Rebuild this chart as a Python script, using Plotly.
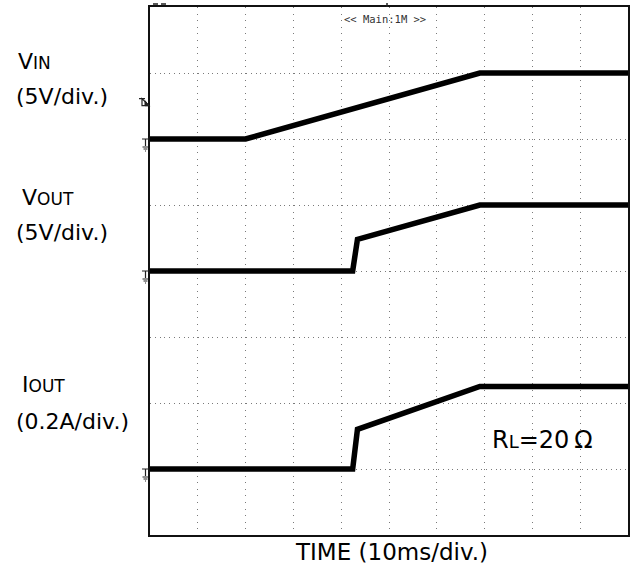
import plotly.graph_objects as go

# time axis in ms (10 ms/div, 10 divisions)
t_vin = [0, 20, 69, 100]
vin = [0, 0, 5, 5]            # V
t_out = [0, 42.4, 43.4, 69, 100]
vout = [0, 0, 2.4, 5, 5]      # V
iout = [0, 0, 0.12, 0.25, 0.25]  # A

# channel ground position (div) and scale (units/div)
vin_pos, vin_scale = 6, 5
vout_pos, vout_scale = 4, 5
iout_pos, iout_scale = 1, 0.2

W, H = 634, 569
L, R, T, B = 150, 4, 7, 34
pw, ph = W - L - R, H - T - B


def px(x):
    return (x - L) / pw


def py(y):
    return (H - B - y) / ph


fig = go.Figure()
for t, v, pos, sc in [(t_vin, vin, vin_pos, vin_scale),
                      (t_out, vout, vout_pos, vout_scale),
                      (t_out, iout, iout_pos, iout_scale)]:
    fig.add_trace(go.Scatter(x=t, y=[pos + a / sc for a in v], mode="lines",
                             line=dict(color="black", width=5.5),
                             showlegend=False, hoverinfo="skip"))

grid = "#7a7a7a"
fig.update_xaxes(range=[0, 100], dtick=10, showticklabels=False, ticks="",
                 showgrid=True, gridcolor=grid, gridwidth=1, griddash="1px,5.6px",
                 zeroline=False, showline=True, linecolor="#111", linewidth=1.5, mirror=True)
fig.update_yaxes(range=[0, 8], dtick=1, showticklabels=False, ticks="",
                 showgrid=True, gridcolor=grid, gridwidth=1, griddash="1px,3.8px",
                 zeroline=False, showline=True, linecolor="#111", linewidth=1.5, mirror=True)

font = "DejaVu Sans, sans-serif"
big, small = 22, 17


def label(txt, x, y, size=big, anchor="left"):
    fig.add_annotation(text=txt, xref="paper", yref="paper", x=px(x), y=py(y),
                       xanchor=anchor, yanchor="middle", showarrow=False,
                       font=dict(family=font, size=size, color="black"))


sm = f"<span style='font-size:{small}px'>"
label(f"V{sm}IN</span>", 15, 61)
label("(5V/div.)", 13, 96)
label(f"V{sm}OUT</span>", 19, 197)
label("(5V/div.)", 13, 232)
label(f"I{sm}OUT</span>", 19, 384)
label("(0.2A/div.)", 13, 421)
label(f"R<span style='font-size:18px'>L</span>=20\u2009Ω", 491, 440, size=24)
label("TIME (10ms/div.)", 393, 552, size=23, anchor="center")

fig.add_annotation(text="&lt;&lt; Main:1M &gt;&gt;", xref="paper", yref="paper",
                   x=px(386), y=py(19), xanchor="center", yanchor="middle", showarrow=False,
                   font=dict(family="DejaVu Sans Mono", size=10.5, color="#333"))

# ground markers at left edge
gnd = "M -8 0 L -1 0 M -4.5 0 L -4.5 -7 M -7.5 -8 L -1.5 -8 M -6.5 -10 L -2.5 -10 M -5 -12 L -4 -12"
for pos in [vin_pos, vout_pos, iout_pos]:
    fig.add_shape(type="path", xref="paper", yref="y", xsizemode="pixel", ysizemode="pixel",
                  xanchor=0, yanchor=pos, path=gnd, line=dict(color="#222", width=1.2))
# trigger level marker
fig.add_shape(type="path", xref="paper", yref="y", xsizemode="pixel", ysizemode="pixel",
              xanchor=0, yanchor=vin_pos + 0.55,
              path="M -11 4 L -5 4 M -8 4 L -8 -3 L -1 -3 Z", line=dict(color="#222", width=1.2))
fig.add_shape(type="path", xref="paper", yref="y", xsizemode="pixel", ysizemode="pixel",
              xanchor=0, yanchor=vin_pos + 0.55,
              path="M -5 2 L -1 -3 L -5 -3 Z", fillcolor="#222", line=dict(color="#222", width=1))
# small marks above the top border
fig.add_shape(type="path", xref="paper", yref="paper", xsizemode="pixel", ysizemode="pixel",
              xanchor=0, yanchor=1, path="M 3 3 L 8 3 M 11 3 L 16 3",
              line=dict(color="#222", width=1.5))
fig.add_shape(type="path", xref="paper", yref="paper", xsizemode="pixel", ysizemode="pixel",
              xanchor=px(388), yanchor=1, path="M 0 0 L 0 4",
              line=dict(color="#222", width=1.5))

fig.update_layout(width=W, height=H, margin=dict(l=L, r=R, t=T, b=B),
                  plot_bgcolor="white", paper_bgcolor="white")

fig.write_html("out.html", config={"displayModeBar": False},
               post_script="document.body.style.margin='0';")
